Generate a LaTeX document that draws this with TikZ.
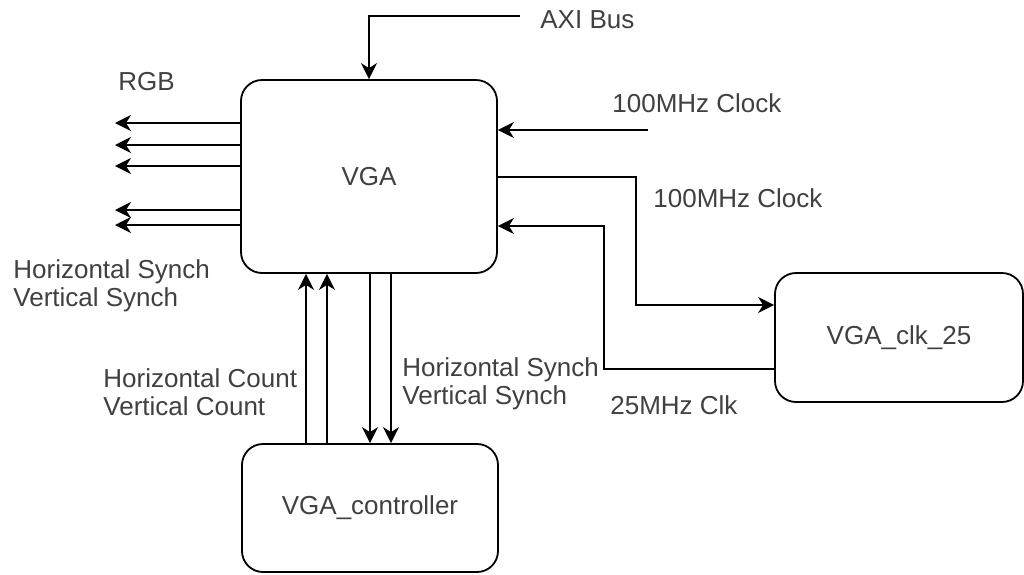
\documentclass[tikz,border=0pt]{standalone}
\usepackage{fontspec}
\setmainfont{Liberation Sans}
\usetikzlibrary{arrows.meta}
\definecolor{txtgray}{RGB}{64,64,64}
\tikzset{
  blockbox/.style={draw=black, line width=0.9pt, rounded corners=10.5pt, fill=white,
    text=txtgray, font=\fontsize{13}{14}\selectfont},
  arr/.style={draw=black, line width=0.9pt, -{Stealth[length=8pt,width=8pt,inset=2.5pt]}},
  lbl/.style={inner sep=0pt, text=txtgray, font=\fontsize{13}{14}\selectfont, align=left, anchor=west}
}
\begin{document}
\begin{tikzpicture}[x=0.5pt,y=-0.5pt]
\useasboundingbox (0,0) rectangle (1024,574);

% blocks
\node[blockbox, minimum width=128pt, minimum height=96.5pt] (vga) at (369,176.5) {VGA};
\node[blockbox, minimum width=124pt, minimum height=64.5pt] (clk) at (899,337.5) {VGA\_clk\_25};
\node[blockbox, minimum width=128pt, minimum height=64pt] (ctrl) at (370,508) {VGA\_controller};

% free ends
\coordinate (axi) at (520,16);
\coordinate (rgb1) at (115,123);
\coordinate (rgb2) at (115,145);
\coordinate (rgb3) at (115,166);
\coordinate (hs) at (115,210);
\coordinate (vs) at (115,225);
\coordinate (clkin) at (648,130);

% AXI bus
\draw[arr] (axi) -| (vga.north);

% RGB and synch outputs
\draw[arr] (vga.west |- rgb1) -- (rgb1);
\draw[arr] (vga.west |- rgb2) -- (rgb2);
\draw[arr] (vga.west |- rgb3) -- (rgb3);
\draw[arr] (vga.west |- hs) -- (hs);
\draw[arr] (vga.west |- vs) -- (vs);

% 100MHz clock in
\draw[arr] (clkin) -- (vga.east |- clkin);

% 100MHz clock to VGA_clk_25
\draw[arr] (vga.east |- 0,177) -- (636,177) |- (clk.west |- 0,305);

% 25MHz clk back
\draw[arr] (clk.west |- 0,369) -- (604,369) |- (vga.east |- 0,226);

% controller connections
\draw[arr] (ctrl.north -| 306,0) -- (vga.south -| 306,0);
\draw[arr] (ctrl.north -| 327,0) -- (vga.south -| 327,0);
\draw[arr] (vga.south -| 370,0) -- (ctrl.north -| 370,0);
\draw[arr] (vga.south -| 391,0) -- (ctrl.north -| 391,0);

% labels
\node[lbl] (lrgb) at (118,82) {RGB};
\node[lbl] (laxi) at (540,20) {AXI Bus};
\node[lbl] (lclk1) at (612,103) {100MHz Clock};
\node[lbl] (lclk2) at (653,198) {100MHz Clock};
\node[lbl] (l25) at (610,405) {25MHz Clk};
\node[lbl] (lsyncl) at (13,286) {Horizontal Synch\\Vertical Synch};
\node[lbl] (lcount) at (103,392.5) {Horizontal Count\\Vertical Count};
\node[lbl] (lsyncr) at (402,384) {Horizontal Synch\\Vertical Synch};
\end{tikzpicture}
\end{document}
